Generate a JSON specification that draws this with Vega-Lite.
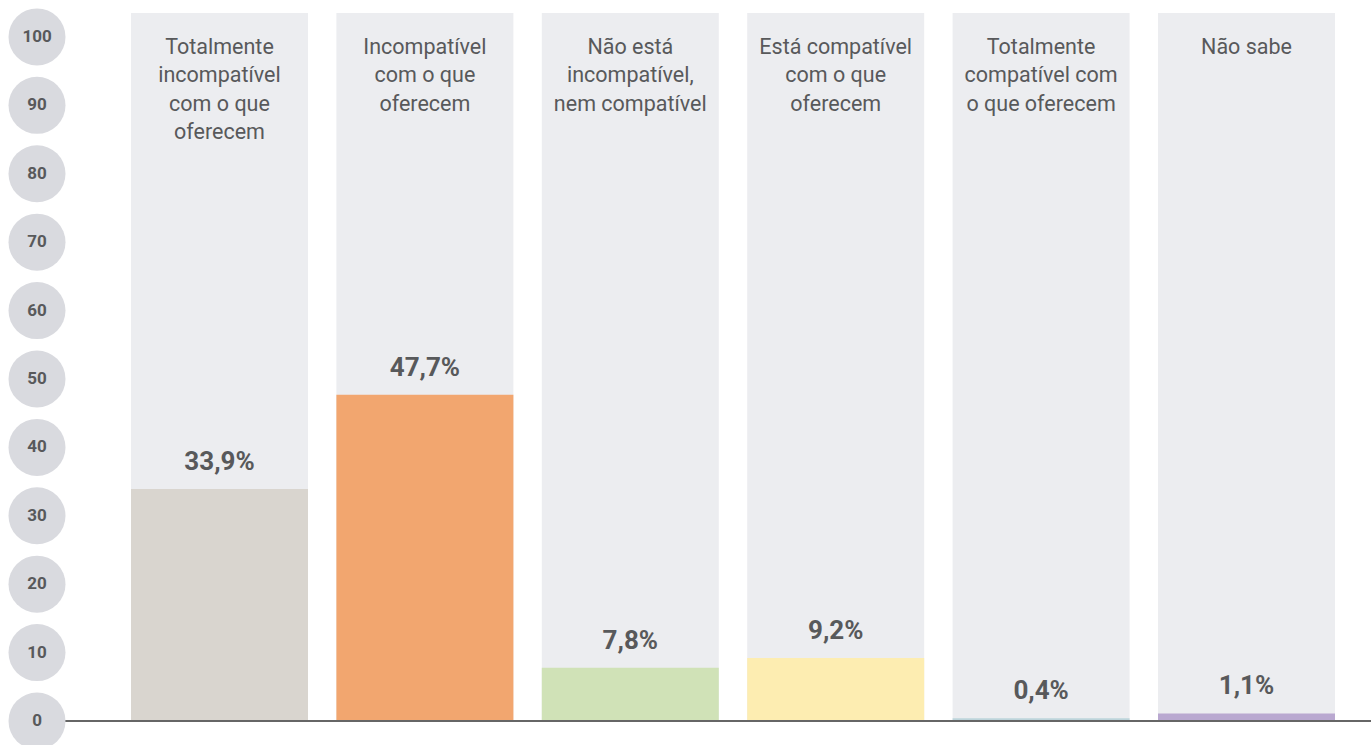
{
  "$schema": "https://vega.github.io/schema/vega-lite/v6.json",
  "width": 1371,
  "height": 721,
  "autosize": {"type": "none"},
  "padding": {"left": 0, "top": 0, "right": 0, "bottom": 24},
  "background": "white",
  "config": {"view": {"stroke": null}, "font": "Roboto"},
  "datasets": {
    "respostas": [
      {"categoria": "Totalmente\nincompatível\ncom o que\noferecem", "valor": 33.9, "rotulo": "33,9%"},
      {"categoria": "Incompatível\ncom o que\noferecem", "valor": 47.7, "rotulo": "47,7%"},
      {"categoria": "Não está\nincompatível,\nnem compatível", "valor": 7.8, "rotulo": "7,8%"},
      {"categoria": "Está compatível\ncom o que\noferecem", "valor": 9.2, "rotulo": "9,2%"},
      {"categoria": "Totalmente\ncompatível com\no que oferecem", "valor": 0.4, "rotulo": "0,4%"},
      {"categoria": "Não sabe", "valor": 1.1, "rotulo": "1,1%"}
    ],
    "escala": [
      {"v": 0}, {"v": 10}, {"v": 20}, {"v": 30}, {"v": 40}, {"v": 50},
      {"v": 60}, {"v": 70}, {"v": 80}, {"v": 90}, {"v": 100}
    ]
  },
  "layer": [
    {
      "data": {"name": "respostas"},
      "mark": {"type": "bar", "color": "#ecedf0"},
      "encoding": {
        "x": {"field": "categoria", "type": "nominal", "sort": null,
              "scale": {"range": [131, 1335], "paddingInner": 0.1383, "paddingOuter": 0}, "axis": null},
        "y": {"datum": 103.5, "type": "quantitative",
              "scale": {"domain": [0, 105.4], "nice": false, "zero": true}, "axis": null},
        "y2": {"datum": 0}
      }
    },
    {
      "data": {"name": "respostas"},
      "mark": {"type": "bar"},
      "encoding": {
        "x": {"field": "categoria", "type": "nominal", "sort": null},
        "y": {"field": "valor", "type": "quantitative"},
        "y2": {"datum": 0},
        "color": {"field": "categoria", "type": "nominal", "sort": null, "legend": null,
                  "scale": {"range": ["#d9d5cf", "#f2a66f", "#d0e2b7", "#fdedb1", "#bdd4db", "#b9a8d0"]}}
      }
    },
    {
      "data": {"values": [{}]},
      "mark": {"type": "rule", "color": "#666666", "strokeWidth": 2},
      "encoding": {
        "y": {"datum": 0, "type": "quantitative"},
        "x": {"value": 65},
        "x2": {"value": 1371}
      }
    },
    {
      "data": {"name": "respostas"},
      "mark": {"type": "text", "baseline": "bottom", "dy": -14, "fontSize": 26, "fontWeight": "bold", "color": "#58595b"},
      "encoding": {
        "x": {"field": "categoria", "type": "nominal", "sort": null, "bandPosition": 0.5},
        "y": {"field": "valor", "type": "quantitative"},
        "text": {"field": "rotulo"}
      }
    },
    {
      "data": {"name": "respostas"},
      "mark": {"type": "text", "baseline": "top", "lineBreak": "\n", "fontSize": 21.5, "lineHeight": 28.5, "color": "#58595b"},
      "encoding": {
        "x": {"field": "categoria", "type": "nominal", "sort": null, "bandPosition": 0.5},
        "y": {"datum": 100, "type": "quantitative"},
        "text": {"field": "categoria"}
      }
    },
    {
      "data": {"name": "escala"},
      "mark": {"type": "point", "shape": "circle", "filled": true, "size": 3249, "color": "#d9dadf", "opacity": 1},
      "encoding": {
        "x": {"value": 37},
        "y": {"field": "v", "type": "quantitative"}
      }
    },
    {
      "data": {"name": "escala"},
      "mark": {"type": "text", "baseline": "middle", "fontSize": 17, "fontWeight": "bold", "color": "#58595b"},
      "encoding": {
        "x": {"value": 37},
        "y": {"field": "v", "type": "quantitative"},
        "text": {"field": "v", "type": "quantitative"}
      }
    }
  ]
}
